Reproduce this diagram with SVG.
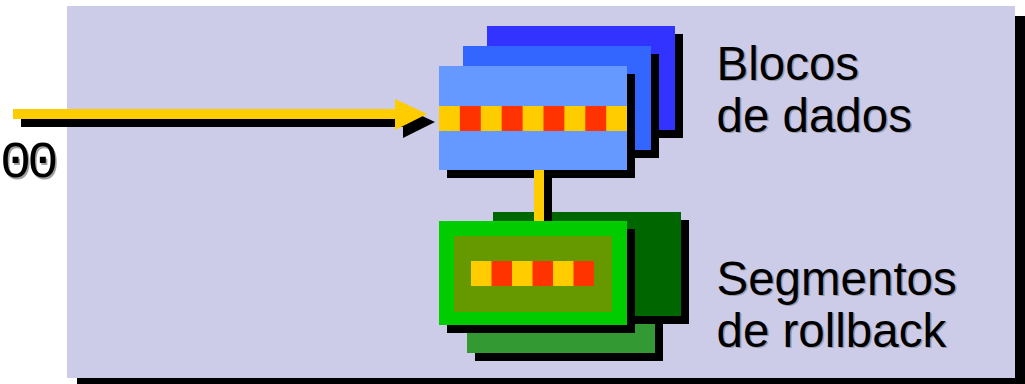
<svg xmlns="http://www.w3.org/2000/svg" width="1025" height="384" viewBox="0 0 1025 384">
  <style>
    .sh { fill: #000000; }
    .y { fill: #FFCC00; }
    .r { fill: #FF3300; }
    .lbl { font-family: "Liberation Sans", Arial, sans-serif; font-size: 47.5px; fill: #000000; }
    .lblsh { font-family: "Liberation Sans", Arial, sans-serif; font-size: 47.5px; fill: #9a9aa8; }
    .mono { font-family: "Liberation Mono", "Courier New", monospace; font-size: 52px; fill: #000000; }
    .monosh { font-family: "Liberation Mono", "Courier New", monospace; font-size: 52px; fill: #a0a0a0; }
  </style>
  <rect width="1025" height="384" fill="#ffffff"/>
  <g id="panel">
    <rect x="77" y="16" width="948" height="372" class="sh"/>
    <rect x="67" y="6" width="948" height="372" fill="#CCCCE8"/>
  </g>
  <g id="value-label">
    <text x="1.5" y="178.5" letter-spacing="-4" class="monosh">00</text>
    <text x="0" y="177" letter-spacing="-4" class="mono">00</text>
  </g>
  <g id="connectors">
    <g id="input-arrow">
      <rect x="21" y="117" width="382" height="10" class="sh"/>
      <polygon points="403,107 435,122 403,138" class="sh"/>
      <rect x="13" y="109" width="382" height="10" class="y"/>
      <polygon points="395,99 427,114 395,130" class="y"/>
    </g>
  </g>
  <g id="blocos-de-dados">
    <rect x="495" y="34" width="188" height="104" class="sh"/>
    <rect x="487" y="26" width="188" height="104" fill="#3333FF"/>
    <rect x="471" y="54" width="188" height="104" class="sh"/>
    <rect x="463" y="46" width="188" height="104" fill="#3366FF"/>
    <rect x="447" y="74" width="188" height="104" class="sh"/>
    <rect x="439" y="66" width="188" height="104" fill="#6699FF"/>
    <g id="data-stripe">
      <rect x="439" y="106" width="188" height="25" class="y"/>
      <rect x="459.9" y="106" width="20.9" height="25" class="r"/>
      <rect x="501.7" y="106" width="20.9" height="25" class="r"/>
      <rect x="543.5" y="106" width="20.9" height="25" class="r"/>
      <rect x="585.3" y="106" width="20.9" height="25" class="r"/>
    </g>
  </g>
  <g id="segmentos-de-rollback">
    <rect x="475" y="257" width="188" height="104" class="sh"/>
    <rect x="467" y="249" width="188" height="104" fill="#339933"/>
    <rect x="501" y="220" width="188" height="104" class="sh"/>
    <rect x="493" y="212" width="188" height="104" fill="#006600"/>
    <g id="link-connector">
      <rect x="544" y="170" width="8" height="51" class="sh"/>
      <rect x="534" y="170" width="10" height="51" class="y"/>
    </g>
    <rect x="447" y="229" width="188" height="104" class="sh"/>
    <rect x="439" y="221" width="188" height="104" fill="#00CC00"/>
    <rect x="454" y="236" width="158" height="76" fill="#669900"/>
    <g id="rollback-stripe">
      <rect x="471" y="261" width="123" height="25" class="y"/>
      <rect x="491.5" y="261" width="20.5" height="25" class="r"/>
      <rect x="532.5" y="261" width="20.5" height="25" class="r"/>
      <rect x="573.5" y="261" width="20.5" height="25" class="r"/>
    </g>
  </g>
  <g id="labels">
    <text x="718" y="81" class="lblsh">Blocos</text>
    <text x="718" y="133" class="lblsh">de dados</text>
    <text x="718" y="296" class="lblsh">Segmentos</text>
    <text x="718" y="348" class="lblsh">de rollback</text>
    <text x="716.5" y="79.5" class="lbl">Blocos</text>
    <text x="716.5" y="131.5" class="lbl">de dados</text>
    <text x="716.5" y="294.5" class="lbl">Segmentos</text>
    <text x="716.5" y="346.5" class="lbl">de rollback</text>
  </g>
</svg>
